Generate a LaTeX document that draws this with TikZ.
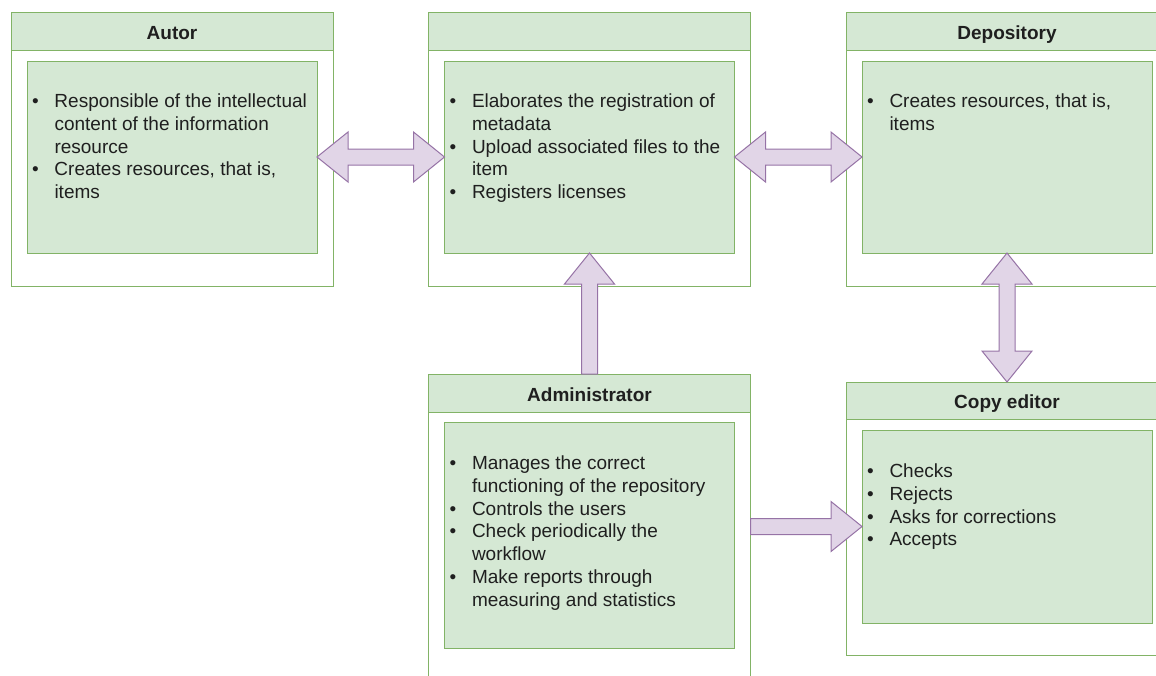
\documentclass[tikz,border=0pt]{standalone}
\usepackage{fontspec}
\setmainfont{Liberation Sans}
\usepackage{xcolor}
\usepackage{tikz}
\usetikzlibrary{positioning,calc}
\definecolor{framegreen}{HTML}{82B366}
\definecolor{panelgreen}{HTML}{D5E8D4}
\definecolor{arrowline}{HTML}{9673A6}
\definecolor{arrowfill}{HTML}{E1D5E7}
\tikzset{
  rolebox/.style={
    rectangle,
    draw=framegreen,
    fill=white,
    line width=1pt,
    outer sep=0pt,
    minimum width=322pt
  },
  rolehead/.style={
    rectangle,
    draw=framegreen,
    fill=panelgreen,
    line width=1pt,
    outer sep=0pt,
    minimum width=322pt,
    minimum height=38pt,
    text height=16pt,
    text depth=0pt,
    text=black!88,
    font=\bfseries\fontsize{19}{22}\selectfont
  },
  rolepanel/.style={
    rectangle,
    draw=framegreen,
    fill=panelgreen,
    line width=1pt,
    outer sep=0pt,
    minimum width=290pt,
    minimum height=192pt
  },
  itemlist/.style={
    inner sep=0pt,
    outer sep=0pt,
    text=black!88,
    font=\fontsize{19}{22.7}\selectfont
  },
  fatboth/.style={
    draw=arrowline, fill=arrowfill, line width=1pt,
    to path={
      -- ($(\tikztostart)!31pt!(\tikztotarget)!25pt!90:(\tikztotarget)$)
      -- ($(\tikztostart)!31pt!(\tikztotarget)!8pt!90:(\tikztotarget)$)
      -- ($(\tikztotarget)!31pt!(\tikztostart)!8pt!-90:(\tikztostart)$)
      -- ($(\tikztotarget)!31pt!(\tikztostart)!25pt!-90:(\tikztostart)$)
      -- (\tikztotarget)
      -- ($(\tikztotarget)!31pt!(\tikztostart)!25pt!90:(\tikztostart)$)
      -- ($(\tikztotarget)!31pt!(\tikztostart)!8pt!90:(\tikztostart)$)
      -- ($(\tikztostart)!31pt!(\tikztotarget)!8pt!-90:(\tikztotarget)$)
      -- ($(\tikztostart)!31pt!(\tikztotarget)!25pt!-90:(\tikztotarget)$)
      -- cycle}
  },
  fatto/.style={
    draw=arrowline, fill=arrowfill, line width=1pt,
    to path={
      -- ($(\tikztostart)!8pt!90:(\tikztotarget)$)
      -- ($(\tikztotarget)!31pt!(\tikztostart)!8pt!-90:(\tikztostart)$)
      -- ($(\tikztotarget)!31pt!(\tikztostart)!25pt!-90:(\tikztostart)$)
      -- (\tikztotarget)
      -- ($(\tikztotarget)!31pt!(\tikztostart)!25pt!90:(\tikztostart)$)
      -- ($(\tikztotarget)!31pt!(\tikztostart)!8pt!90:(\tikztostart)$)
      -- ($(\tikztostart)!8pt!-90:(\tikztotarget)$)
      -- cycle}
  }
}

\begin{document}
\begin{tikzpicture}[x=1pt, y=-1pt, node distance=95.5pt]
  \useasboundingbox (0,0) rectangle (1156,675);
  \clip (0,0) rectangle (1156,675);

  % top row
  \node[rolebox, minimum height=274pt] (autorbox) at (172,149) {};
  \node[rolebox, minimum height=274pt, right=of autorbox] (midbox) {};
  \node[rolebox, minimum height=274pt, right=of midbox] (depbox) {};
  % bottom row
  \node[rolebox, minimum height=307pt, below=88pt of midbox] (adminbox) {};
  \node[rolebox, minimum height=273pt, below=96pt of depbox] (copybox) {};

  \node[rolehead, anchor=north] (autorhead) at (autorbox.north) {Autor};
  \node[rolehead, anchor=north] (midhead) at (midbox.north) {};
  \node[rolehead, anchor=north] (dephead) at (depbox.north) {Depository};
  \node[rolehead, anchor=north] (adminhead) at (adminbox.north) {Administrator};
  \node[rolehead, anchor=north, minimum height=37pt] (copyhead) at (copybox.north) {Copy editor};

  \node[rolepanel, below=11pt of autorhead] (autorin) {};
  \node[rolepanel, below=11pt of midhead] (midin) {};
  \node[rolepanel, below=11pt of dephead] (depin) {};
  \node[rolepanel, below=10pt of adminhead, minimum height=226pt] (adminin) {};
  \node[rolepanel, below=11pt of copyhead, minimum height=193pt] (copyin) {};

  \node[itemlist, below right=31pt and 5pt of autorin.north west] (autortext) {%
    \begin{tabular}{@{}p{22.5pt}@{}l@{}}
      \textbullet & Responsible of the intellectual\\
                  & content of the information\\
                  & resource\\
      \textbullet & Creates resources, that is,\\
                  & items
    \end{tabular}};
  \node[itemlist, below right=31pt and 5pt of midin.north west] (midtext) {%
    \begin{tabular}{@{}p{22.5pt}@{}l@{}}
      \textbullet & Elaborates the registration of\\
                  & metadata\\
      \textbullet & Upload associated files to the\\
                  & item\\
      \textbullet & Registers licenses
    \end{tabular}};
  \node[itemlist, below right=31pt and 5pt of depin.north west] (deptext) {%
    \begin{tabular}{@{}p{22.5pt}@{}l@{}}
      \textbullet & Creates resources, that is,\\
                  & items
    \end{tabular}};
  \node[itemlist, below right=32pt and 5pt of adminin.north west] (admintext) {%
    \begin{tabular}{@{}p{22.5pt}@{}l@{}}
      \textbullet & Manages the correct\\
                  & functioning of the repository\\
      \textbullet & Controls the users\\
      \textbullet & Check periodically the\\
                  & workflow\\
      \textbullet & Make reports through\\
                  & measuring and statistics
    \end{tabular}};
  \node[itemlist, below right=32pt and 5pt of copyin.north west] (copytext) {%
    \begin{tabular}{@{}p{22.5pt}@{}l@{}}
      \textbullet & Checks\\
      \textbullet & Rejects\\
      \textbullet & Asks for corrections\\
      \textbullet & Accepts
    \end{tabular}};

  \coordinate (adminout) at (copyin.west -| adminbox.east);

  \draw[fatboth] (autorin.east) to (midin.west);
  \draw[fatboth] (midin.east) to (depin.west);
  \draw[fatboth] (depin.south) to (copyhead.north);
  \draw[fatto] (adminhead.north) to (midin.south);
  \draw[fatto] (adminout) to (copyin.west);
\end{tikzpicture}
\end{document}
